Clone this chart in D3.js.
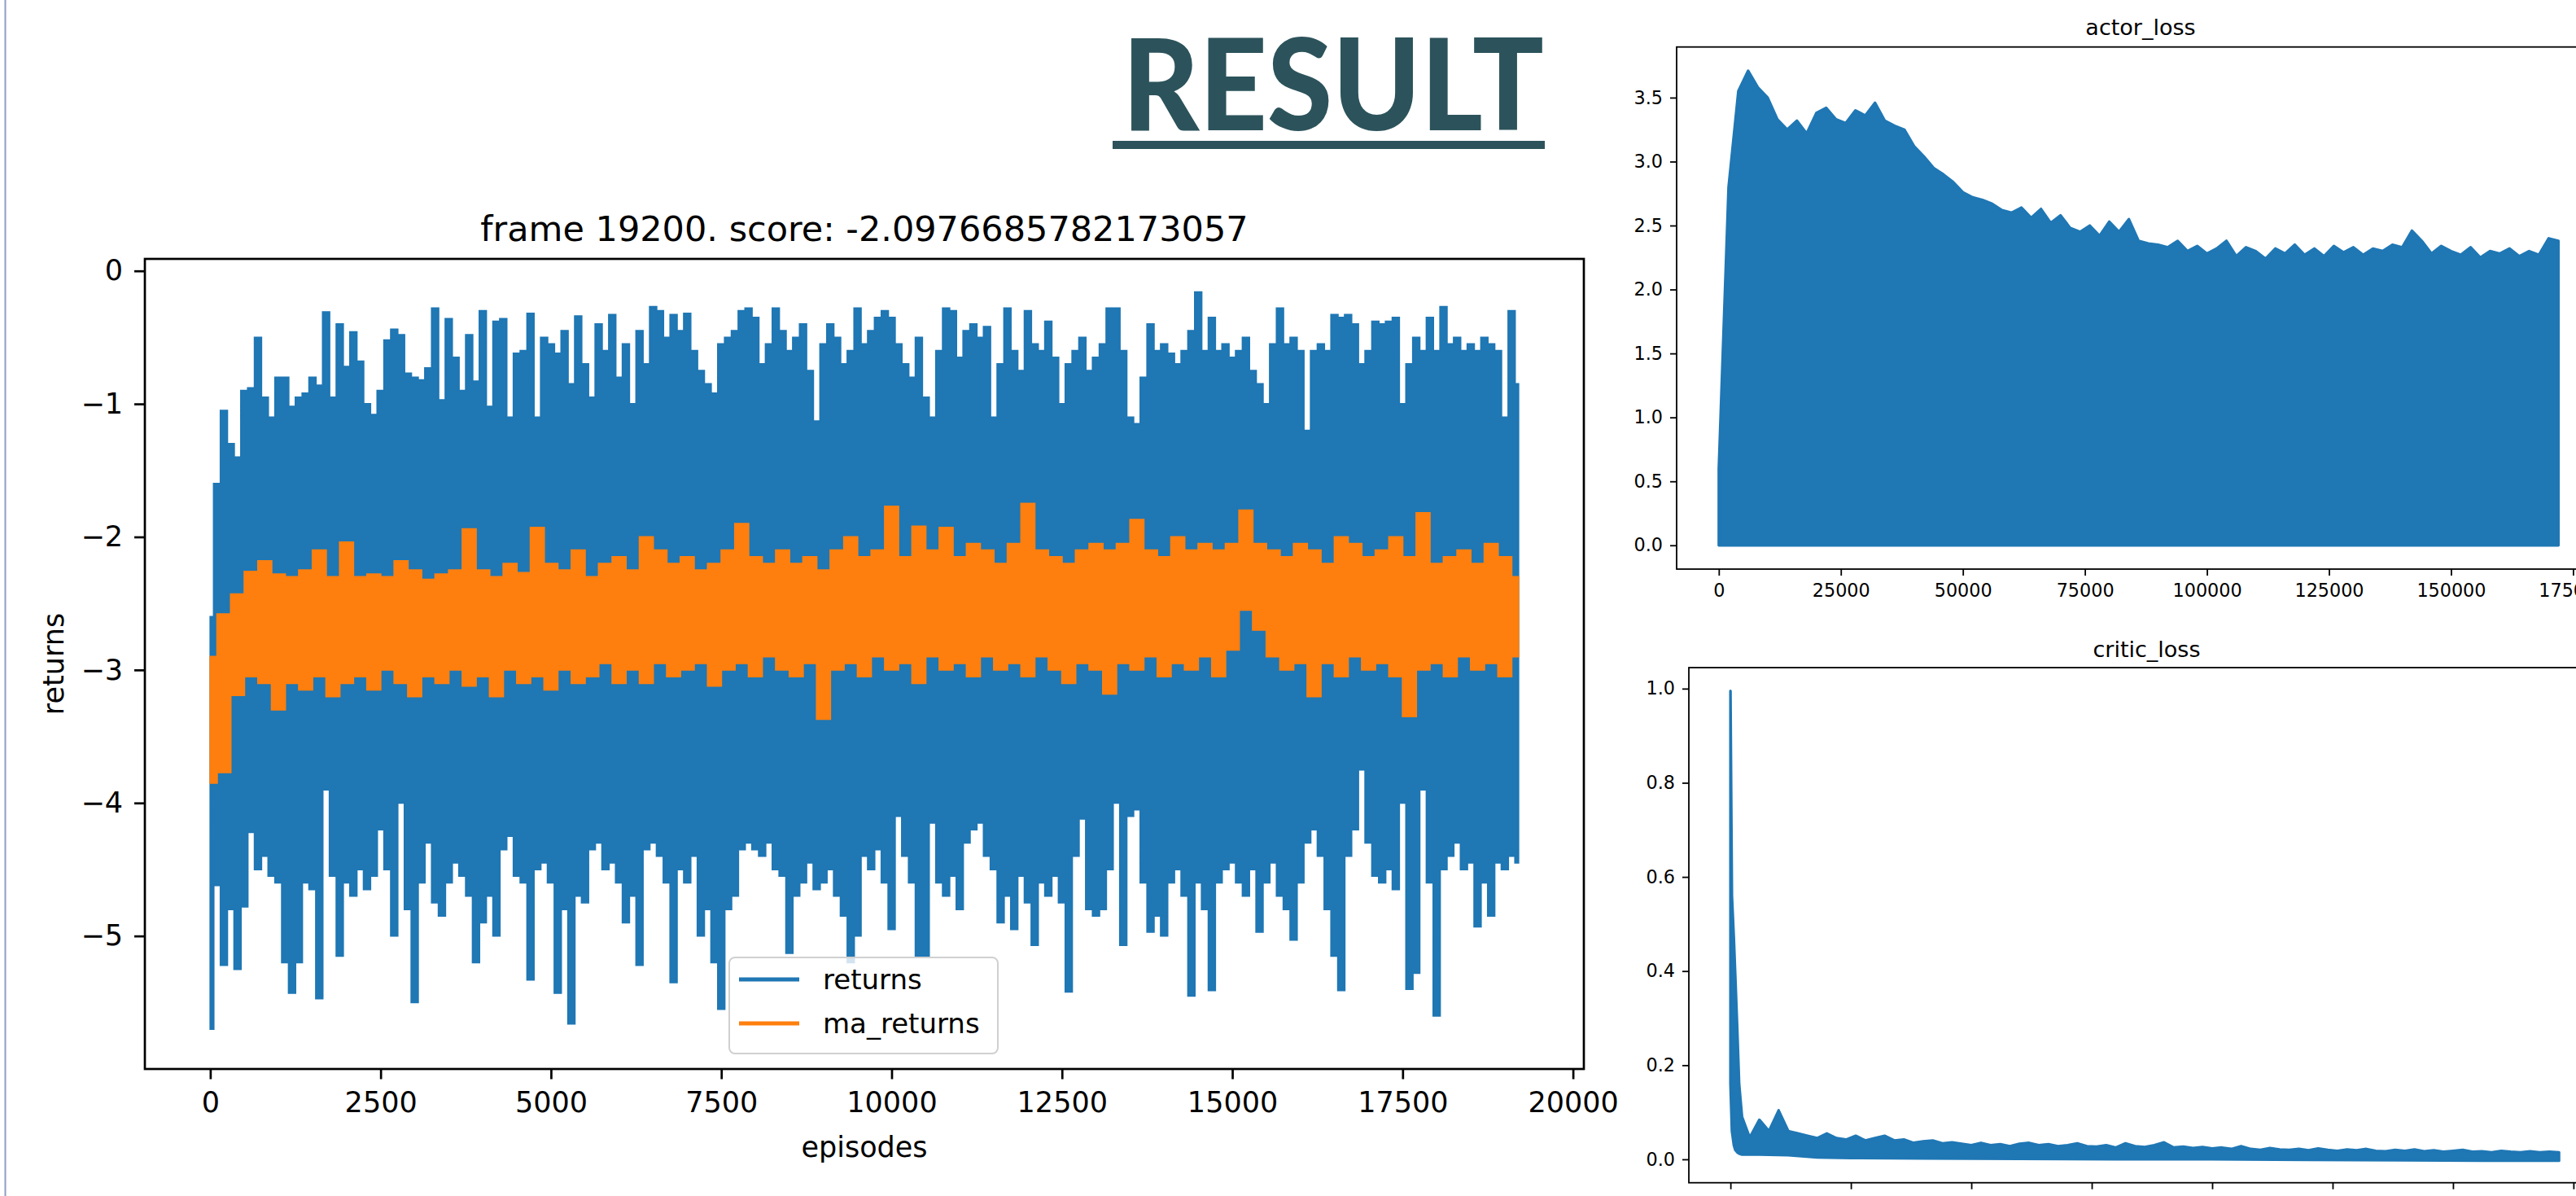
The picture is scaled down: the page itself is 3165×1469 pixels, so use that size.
<!DOCTYPE html>
<html>
<head>
<meta charset="utf-8">
<script src="https://cdn.jsdelivr.net/npm/d3@7"></script>
<style>
  html, body { margin: 0; padding: 0; background: #fff; }
  svg { display: block; }
</style>
</head>
<body>
<svg id="slide" width="3165" height="1469"></svg>
<script>
'use strict';

const slideTitle = 'RESULT';
const returnsTitle = 'frame 19200. score: -2.0976685782173057';
const legendItems = ['returns', 'ma_returns'];

// returns: highest / lowest value inside each 100-episode bin
const returnsBin = 100;
const returnsHigh = [
  -2.6, -1.6, -1.05, -1.3, -1.4, -0.9, -0.88, -0.5, -0.95, -1.1,
  -0.8, -0.8, -1.02, -0.95, -0.92, -0.8, -0.86, -0.31, -0.95, -0.4,
  -0.72, -0.46, -0.68, -1.0, -1.08, -0.9, -0.52, -0.44, -0.48, -0.77,
  -0.8, -0.82, -0.73, -0.28, -0.97, -0.36, -0.65, -0.9, -0.48, -0.83,
  -0.3, -1.02, -0.38, -0.36, -1.1, -0.62, -0.6, -0.32, -1.1, -0.5,
  -0.55, -0.62, -0.45, -0.85, -0.34, -0.7, -0.95, -0.4, -0.6, -0.33,
  -0.8, -0.55, -1.0, -0.45, -0.7, -0.27, -0.3, -0.5, -0.33, -0.45,
  -0.32, -0.6, -0.75, -0.85, -0.92, -0.55, -0.5, -0.45, -0.3, -0.28,
  -0.35, -0.7, -0.55, -0.28, -0.45, -0.6, -0.5, -0.4, -0.75, -1.13,
  -0.55, -0.4, -0.5, -0.7, -0.6, -0.28, -0.55, -0.45, -0.35, -0.3,
  -0.35, -0.55, -0.7, -0.8, -0.5, -0.95, -1.1, -0.6, -0.28, -0.3,
  -0.65, -0.45, -0.4, -0.5, -0.42, -1.1, -0.7, -0.28, -0.6, -0.75,
  -0.3, -0.55, -0.6, -0.38, -0.65, -1.0, -0.7, -0.6, -0.5, -0.75,
  -0.65, -0.55, -0.28, -0.28, -0.6, -1.1, -1.15, -0.8, -0.4, -0.6,
  -0.55, -0.62, -0.7, -0.6, -0.45, -0.16, -0.6, -0.35, -0.6, -0.55,
  -0.65, -0.6, -0.5, -0.75, -0.85, -1.0, -0.55, -0.28, -0.55, -0.5,
  -0.6, -1.2, -0.6, -0.55, -0.6, -0.33, -0.35, -0.33, -0.4, -0.7,
  -0.6, -0.38, -0.4, -0.38, -0.35, -1.0, -0.7, -0.5, -0.6, -0.35,
  -0.6, -0.27, -0.55, -0.5, -0.6, -0.55, -0.6, -0.5, -0.55, -0.6,
  -1.1, -0.3, -0.85
];
const returnsLow = [
  -5.7, -4.62, -5.22, -4.8, -5.25, -4.78, -4.22, -4.5, -4.4, -4.55,
  -4.6, -5.2, -5.43, -5.2, -4.6, -4.65, -5.47, -3.9, -4.55, -5.15,
  -4.6, -4.7, -4.5, -4.65, -4.55, -4.2, -4.5, -5.0, -4.0, -4.8,
  -5.5, -4.6, -4.3, -4.75, -4.85, -4.6, -4.45, -4.55, -4.7, -5.2,
  -4.9, -4.7, -5.0, -4.35, -4.25, -4.55, -4.6, -5.33, -4.5, -4.45,
  -4.6, -5.43, -4.8, -5.66, -4.7, -4.75, -4.35, -4.3, -4.5, -4.45,
  -4.6, -4.9, -4.7, -5.22, -4.35, -4.3, -4.4, -4.6, -5.35, -4.5,
  -4.6, -4.4, -5.0, -4.8, -5.2, -5.55, -4.8, -4.7, -4.35, -4.3,
  -4.35, -4.4, -4.3, -4.5, -4.55, -5.13, -4.7, -4.6, -4.45, -4.65,
  -4.6, -4.5, -4.7, -4.85, -5.2, -5.0, -4.4, -4.5, -4.35, -4.6,
  -4.95, -4.1, -4.4, -4.6, -5.15, -5.15, -4.15, -4.6, -4.7, -4.55,
  -4.8, -4.3, -4.2, -4.15, -4.4, -4.5, -4.9, -4.7, -4.95, -4.55,
  -4.75, -5.07, -4.6, -4.7, -4.55, -4.75, -5.42, -4.4, -4.12, -4.8,
  -4.85, -4.8, -4.5, -4.0, -5.07, -4.1, -4.05, -4.6, -4.97, -4.85,
  -5.0, -4.6, -4.5, -4.7, -5.45, -4.6, -4.8, -5.41, -4.6, -4.5,
  -4.45, -4.6, -4.7, -4.5, -4.97, -4.6, -4.45, -4.7, -4.8, -5.03,
  -4.6, -4.3, -4.2, -4.4, -4.8, -5.15, -5.41, -4.4, -4.2, -3.75,
  -4.3, -4.55, -4.6, -4.5, -4.65, -4.0, -5.4, -5.28, -3.9, -4.6,
  -5.6, -4.5, -4.4, -4.3, -4.5, -4.45, -4.93, -4.6, -4.85, -4.45,
  -4.5, -4.4, -4.45
];

// ma_returns: highest / lowest value inside each 200-episode bin
const maBin = 200;
const maHigh = [
  -2.9, -2.58, -2.43, -2.26, -2.18, -2.28, -2.3, -2.25, -2.1, -2.3,
  -2.04, -2.3, -2.28, -2.3, -2.18, -2.25, -2.32, -2.28, -2.25, -1.94,
  -2.25, -2.3, -2.2, -2.27, -1.93, -2.2, -2.25, -2.1, -2.3, -2.2,
  -2.15, -2.25, -2.0, -2.1, -2.2, -2.15, -2.25, -2.2, -2.1, -1.9,
  -2.15, -2.2, -2.1, -2.2, -2.15, -2.25, -2.1, -2.0, -2.15, -2.1,
  -1.77, -2.15, -1.92, -2.1, -1.93, -2.15, -2.05, -2.1, -2.2, -2.05,
  -1.75, -2.1, -2.15, -2.2, -2.1, -2.05, -2.1, -2.05, -1.87, -2.1,
  -2.15, -2.0, -2.1, -2.05, -2.1, -2.05, -1.8, -2.05, -2.1, -2.15,
  -2.05, -2.1, -2.2, -2.0, -2.05, -2.15, -2.1, -2.0, -2.15, -1.82,
  -2.2, -2.15, -2.1, -2.2, -2.05, -2.15, -2.3
];
const maLow = [
  -3.85, -3.77, -3.19, -3.05, -3.1, -3.3, -3.1, -3.15, -3.05, -3.2,
  -3.1, -3.05, -3.15, -3.0, -3.1, -3.2, -3.05, -3.1, -3.0, -3.12,
  -3.05, -3.2, -3.0, -3.1, -3.05, -3.15, -3.0, -3.1, -3.05, -2.95,
  -3.1, -3.0, -3.1, -2.95, -3.05, -3.0, -2.95, -3.12, -3.0, -2.95,
  -3.05, -2.9, -3.0, -3.05, -2.95, -3.37, -3.0, -2.95, -3.05, -2.9,
  -3.0, -2.95, -3.1, -2.9, -3.0, -2.95, -3.05, -2.9, -3.0, -2.95,
  -3.05, -2.9, -3.0, -3.1, -2.95, -3.0, -3.18, -2.95, -3.0, -2.9,
  -3.05, -2.95, -3.0, -2.9, -3.05, -2.85, -2.55, -2.7, -2.9, -3.0,
  -2.95, -3.2, -2.95, -3.05, -2.9, -3.0, -2.95, -3.05, -3.35, -3.0,
  -2.95, -3.05, -2.9, -3.0, -2.95, -3.05, -2.9
];
const episodeTicks = [0, 2500, 5000, 7500, 10000, 12500, 15000, 17500, 20000];
const returnTicks = [0, -1, -2, -3, -4, -5];

// actor_loss: top of the band for every 2000 steps (band goes down to 0)
const actorBin = 2000;
const actorHigh = [
  0.6, 2.8, 3.55, 3.71, 3.58, 3.5, 3.33, 3.25, 3.32, 3.22,
  3.38, 3.42, 3.33, 3.3, 3.4, 3.36, 3.46, 3.32, 3.28, 3.25,
  3.12, 3.04, 2.95, 2.9, 2.84, 2.76, 2.72, 2.7, 2.67, 2.62,
  2.6, 2.64, 2.56, 2.63, 2.52, 2.58, 2.48, 2.45, 2.5, 2.42,
  2.53, 2.45, 2.55, 2.38, 2.36, 2.35, 2.33, 2.38, 2.3, 2.34,
  2.28, 2.32, 2.38, 2.26, 2.33, 2.3, 2.24, 2.32, 2.28, 2.35,
  2.27, 2.32, 2.26, 2.34, 2.29, 2.33, 2.27, 2.32, 2.3, 2.35,
  2.33, 2.46, 2.38, 2.28, 2.34, 2.3, 2.27, 2.33, 2.25, 2.3,
  2.28, 2.32, 2.26, 2.3, 2.27, 2.4, 2.38
];
const actorTicks = [0, 0.5, 1.0, 1.5, 2.0, 2.5, 3.0, 3.5];

// critic_loss: the first steps are listed one by one, then every 2000 steps from 4000
const criticHeadSteps = [0, 300, 700, 1000, 1400, 1800, 2400];
const criticHeadHigh = [0.995, 0.56, 0.47, 0.39, 0.28, 0.16, 0.09];
const criticStart = 4000;
const criticBin = 2000;
const criticHigh = [
  0.046, 0.084, 0.06, 0.104, 0.06, 0.055, 0.05, 0.045, 0.055, 0.045,
  0.042, 0.05, 0.04, 0.045, 0.05, 0.04, 0.042, 0.035, 0.038, 0.04,
  0.034, 0.036, 0.033, 0.03, 0.035, 0.03, 0.032, 0.028, 0.033, 0.035,
  0.03, 0.032, 0.028, 0.03, 0.034, 0.028, 0.027, 0.03, 0.025, 0.034,
  0.028, 0.026, 0.03, 0.036, 0.025, 0.027, 0.024, 0.026, 0.023, 0.025,
  0.022, 0.028, 0.022, 0.02, 0.024, 0.021, 0.02, 0.022, 0.019, 0.023,
  0.02, 0.018, 0.021, 0.019, 0.022, 0.018, 0.017, 0.02, 0.018, 0.021,
  0.017, 0.019, 0.016, 0.018, 0.02, 0.016, 0.017, 0.015, 0.018, 0.016,
  0.015, 0.017, 0.015, 0.016, 0.015
];
const criticLowSteps = [0, 300, 700, 1000, 1400, 1800, 2400, 6000, 12000, 18000, 25000, 40000, 60000, 80000, 100000, 120000, 140000, 160000, 172000];
const criticLow = [0.16, 0.06, 0.03, 0.02, 0.015, 0.012, 0.01, 0.01, 0.009, 0.004, 0.003, 0.002, 0.001, 0.0, 0.0, -0.001, -0.002, -0.003, -0.003];
const criticTicks = [0, 0.2, 0.4, 0.6, 0.8, 1.0];
const lossStepTicks = [0, 25000, 50000, 75000, 100000, 125000, 150000, 175000];

const FONT = '"DejaVu Sans", sans-serif';
const BLUE = '#1f77b4';
const ORANGE = '#ff7f0e';

const svg = d3.select('#slide');

function styleAxis(g, fontSize, lineWidth) {
  g.attr('font-family', FONT).attr('font-size', fontSize);
  g.select('.domain').remove();
  g.selectAll('.tick line').attr('stroke', '#000').attr('stroke-width', lineWidth);
  g.selectAll('.tick text').attr('fill', '#000');
}

function drawSlideFrame() {
  svg.append('rect').attr('width', 3165).attr('height', 1469).attr('fill', '#fff');
  svg.append('line')
    .attr('x1', 6.5).attr('x2', 6.5).attr('y1', 0).attr('y2', 1469)
    .attr('stroke', '#8f9dc5').attr('stroke-width', 2);

  svg.append('text')
    .attr('x', 1379).attr('y', 160)
    .attr('font-family', 'Lato, "Open Sans", sans-serif')
    .attr('font-weight', 900)
    .attr('font-size', 156)
    .attr('textLength', 518)
    .attr('lengthAdjust', 'spacingAndGlyphs')
    .attr('fill', '#2c535b')
    .text(slideTitle);
  svg.append('rect')
    .attr('x', 1367).attr('y', 173).attr('width', 531).attr('height', 10)
    .attr('fill', '#2c535b');
}

function drawReturns() {
  const box = { left: 178, right: 1946, top: 318, bottom: 1313 };
  const x = d3.scaleLinear().domain([-960, 20160]).range([box.left, box.right]);
  const y = d3.scaleLinear().domain([-6.0, 0.09]).range([box.bottom, box.top]);
  const g = svg.append('g').attr('class', 'returns-chart');

  g.append('clipPath').attr('id', 'clip-returns')
    .append('rect')
    .attr('x', box.left).attr('y', box.top)
    .attr('width', box.right - box.left).attr('height', box.bottom - box.top);

  const plot = g.append('g').attr('clip-path', 'url(#clip-returns)');

  const band = (bin) => d3.area()
    .curve(d3.curveStep)
    .x((d, i) => x(i * bin))
    .y0((d) => y(d[1]))
    .y1((d) => y(d[0]));

  plot.append('path')
    .datum(d3.zip(returnsHigh, returnsLow))
    .attr('d', band(returnsBin))
    .attr('fill', BLUE)
    .attr('stroke', BLUE)
    .attr('stroke-width', 2);

  plot.append('path')
    .datum(d3.zip(maHigh, maLow))
    .attr('d', band(maBin))
    .attr('fill', ORANGE)
    .attr('stroke', ORANGE)
    .attr('stroke-width', 2);

  g.append('g')
    .attr('transform', `translate(0,${box.bottom})`)
    .call(d3.axisBottom(x).tickValues(episodeTicks).tickSize(12.5).tickPadding(16).tickFormat(d3.format('d')))
    .call((a) => styleAxis(a, 35, 2.7));

  g.append('g')
    .attr('transform', `translate(${box.left},0)`)
    .call(d3.axisLeft(y).tickValues(returnTicks).tickSize(13).tickPadding(14).tickFormat(d3.format('d')))
    .call((a) => styleAxis(a, 35, 2.7));

  g.append('rect')
    .attr('x', box.left).attr('y', box.top)
    .attr('width', box.right - box.left).attr('height', box.bottom - box.top)
    .attr('fill', 'none').attr('stroke', '#000').attr('stroke-width', 2.7);

  g.append('text')
    .attr('x', (box.left + box.right) / 2).attr('y', 296)
    .attr('text-anchor', 'middle')
    .attr('font-family', FONT).attr('font-size', 43)
    .text(returnsTitle);

  g.append('text')
    .attr('x', (box.left + box.right) / 2).attr('y', 1421)
    .attr('text-anchor', 'middle')
    .attr('font-family', FONT).attr('font-size', 35)
    .text('episodes');

  g.append('text')
    .attr('transform', `translate(78,${(box.top + box.bottom) / 2}) rotate(-90)`)
    .attr('text-anchor', 'middle')
    .attr('font-family', FONT).attr('font-size', 35)
    .text('returns');

  // legend, lower centre like matplotlib's "best" placement
  const legend = g.append('g').attr('transform', 'translate(896,1176)');
  legend.append('rect')
    .attr('width', 330).attr('height', 118).attr('rx', 7)
    .attr('fill', '#fff').attr('fill-opacity', 0.8)
    .attr('stroke', '#d0d0d0').attr('stroke-width', 2);
  legend.selectAll('g.item')
    .data(legendItems)
    .enter()
    .append('g')
    .attr('class', 'item')
    .attr('transform', (d, i) => `translate(0,${27 + i * 54})`)
    .each(function (d, i) {
      const item = d3.select(this);
      item.append('line')
        .attr('x1', 12).attr('x2', 86)
        .attr('stroke', i === 0 ? BLUE : ORANGE)
        .attr('stroke-width', 5);
      item.append('text')
        .attr('x', 115).attr('y', 12)
        .attr('font-family', FONT).attr('font-size', 34)
        .text(d);
    });
}

function drawLossPanel(opts) {
  const { box, yDomain, ticks, title, titleY, id, points } = opts;
  const x = d3.scaleLinear().domain([-8640, 181440]).range([box.left, box.right]);
  const y = d3.scaleLinear().domain(yDomain).range([box.bottom, box.top]);
  const g = svg.append('g').attr('class', id);

  g.append('clipPath').attr('id', `clip-${id}`)
    .append('rect')
    .attr('x', box.left).attr('y', box.top)
    .attr('width', box.right - box.left).attr('height', box.bottom - box.top);

  g.append('g').attr('clip-path', `url(#clip-${id})`)
    .append('path')
    .datum(points)
    .attr('d', d3.line().x((d) => x(d[0])).y((d) => y(d[1]))(points) + 'Z')
    .attr('fill', BLUE)
    .attr('stroke', BLUE)
    .attr('stroke-width', 3.3)
    .attr('stroke-linejoin', 'round');

  g.append('g')
    .attr('transform', `translate(0,${box.bottom})`)
    .call(d3.axisBottom(x).tickValues(lossStepTicks).tickSize(8).tickPadding(10).tickFormat(d3.format('d')))
    .call((a) => styleAxis(a, 22.3, 1.8));

  g.append('g')
    .attr('transform', `translate(${box.left},0)`)
    .call(d3.axisLeft(y).tickValues(ticks).tickSize(8).tickPadding(9).tickFormat(d3.format('.1f')))
    .call((a) => styleAxis(a, 22.3, 1.8));

  g.append('rect')
    .attr('x', box.left).attr('y', box.top)
    .attr('width', box.right - box.left).attr('height', box.bottom - box.top)
    .attr('fill', 'none').attr('stroke', '#000').attr('stroke-width', 1.8);

  g.append('text')
    .attr('x', (box.left + box.right) / 2).attr('y', titleY)
    .attr('text-anchor', 'middle')
    .attr('font-family', FONT).attr('font-size', 27)
    .text(title);
}

function actorPoints() {
  const top = actorHigh.map((v, i) => [i * actorBin, v]);
  const last = (actorHigh.length - 1) * actorBin;
  return top.concat([[last, 0], [0, 0]]);
}

function criticPoints() {
  const head = criticHeadSteps.map((s, i) => [s, criticHeadHigh[i]]);
  const body = criticHigh.map((v, i) => [criticStart + i * criticBin, v]);
  const low = criticLowSteps.map((s, i) => [s, criticLow[i]]).reverse();
  return head.concat(body, low);
}

drawSlideFrame();
drawReturns();
drawLossPanel({
  id: 'actor',
  box: { left: 2060, right: 3200, top: 57.7, bottom: 699 },
  yDomain: [-0.186, 3.896],
  ticks: actorTicks,
  title: 'actor_loss',
  titleY: 43,
  points: actorPoints()
});
drawLossPanel({
  id: 'critic',
  box: { left: 2075, right: 3200, top: 820, bottom: 1452.7 },
  yDomain: [-0.0497, 1.0447],
  ticks: criticTicks,
  title: 'critic_loss',
  titleY: 807,
  points: criticPoints()
});
</script>
</body>
</html>
